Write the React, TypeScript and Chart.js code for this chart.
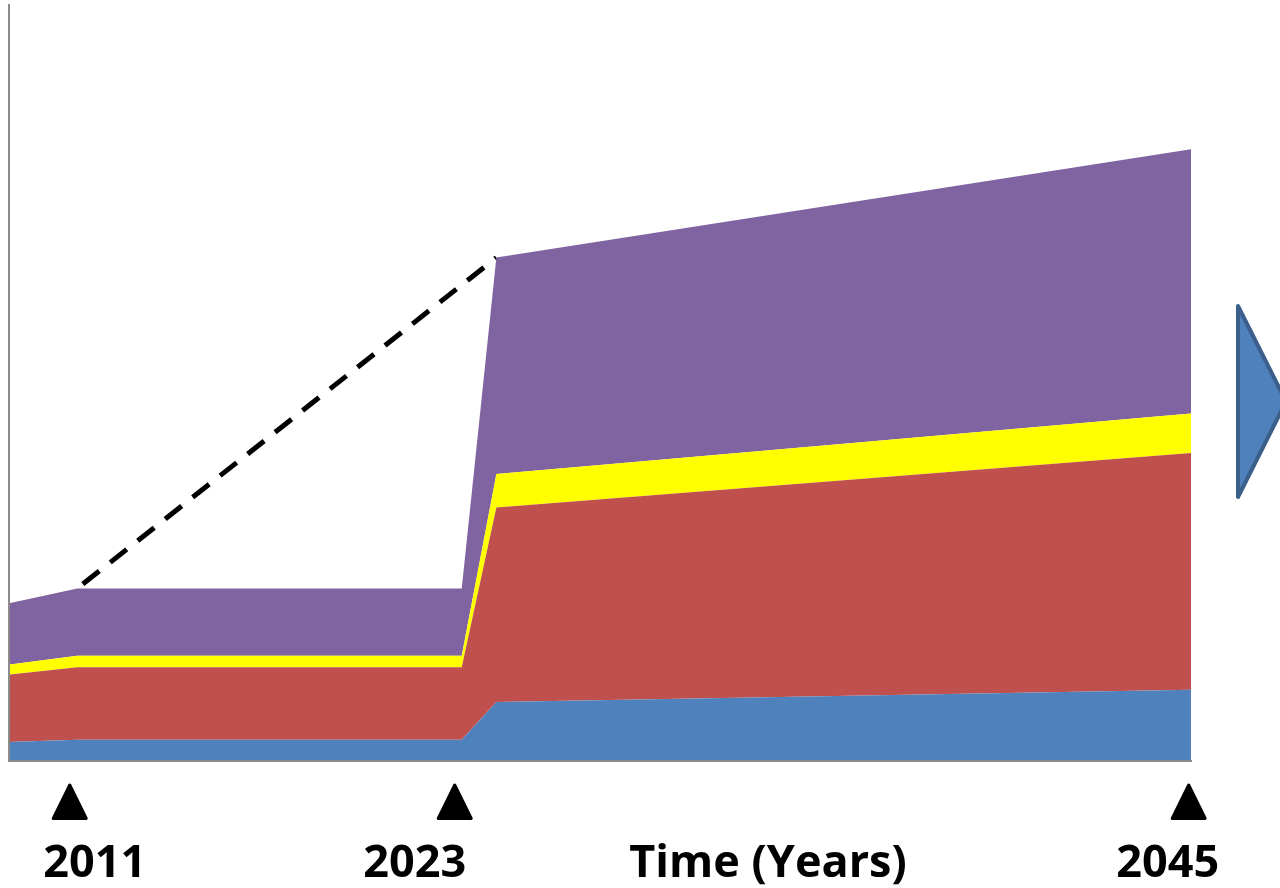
import React, { useEffect, useRef } from "react";
import { Chart, registerables } from "chart.js";

Chart.register(...registerables);

// ---- data ----
const years = [2009.25, 2011.35, 2023.0, 2024.05, 2045.1];
const blueValues = [2.5, 2.8, 2.8, 7.8, 9.4];
const redValues = [8.9, 9.6, 9.6, 25.7, 31.3];
const yellowValues = [1.3, 1.5, 1.5, 4.4, 5.2];
const purpleValues = [8.1, 8.9, 8.9, 28.6, 34.9];
const dashYears = [2011.35, 2024.05];
const dashTotals = [22.8, 66.5];
const markerYears = [2011, 2023, 2045];
const markerLabels = ["2011", "2023", "2045"];
const axisTitle = "Time (Years)";

const pts = (xs: number[], ys: number[]) => xs.map((x, i) => ({ x, y: ys[i] }));

const decorPlugin = {
  id: "decor",
  afterDatasetsDraw(chart: any) {
    const { ctx, chartArea, scales } = chart;
    const xs = scales.x;
    ctx.save();
    // axis lines
    ctx.strokeStyle = "#8c8c8c";
    ctx.lineWidth = 2;
    ctx.beginPath();
    ctx.moveTo(chartArea.left + 1, chartArea.top);
    ctx.lineTo(chartArea.left + 1, chartArea.bottom);
    ctx.lineTo(chartArea.right + 1, chartArea.bottom);
    ctx.stroke();

    // markers (small visual nudges to match the drawing)
    const markerNudge = [4, -7, 1];
    const labelOffsets = [29, -47, -20];
    ctx.fillStyle = "#000";
    ctx.strokeStyle = "#000";
    ctx.lineJoin = "round";
    ctx.lineWidth = 3;
    markerYears.forEach((yr, i) => {
      const px = xs.getPixelForValue(yr);
      const tx = px + markerNudge[i];
      ctx.beginPath();
      ctx.moveTo(tx, 785);
      ctx.lineTo(tx + 16.5, 818.5);
      ctx.lineTo(tx - 16.5, 818.5);
      ctx.closePath();
      ctx.fill();
      ctx.stroke();
      ctx.font = "bold 45px 'Open Sans'";
      ctx.textAlign = "center";
      ctx.textBaseline = "alphabetic";
      ctx.fillText(markerLabels[i], px + labelOffsets[i], 877);
    });
    ctx.font = "bold 45px 'Open Sans'";
    ctx.textAlign = "center";
    ctx.fillText(axisTitle, 768, 877);

    // right arrow
    ctx.beginPath();
    ctx.moveTo(1238, 306);
    ctx.lineTo(1286, 401.5);
    ctx.lineTo(1238, 497);
    ctx.closePath();
    ctx.fillStyle = "#4F81BD";
    ctx.fill();
    ctx.strokeStyle = "#3A5F8B";
    ctx.lineWidth = 4;
    ctx.lineJoin = "round";
    ctx.stroke();
    ctx.restore();
  },
};

export default function App() {
  const ref = useRef<HTMLCanvasElement>(null);
  useEffect(() => {
    if (!ref.current) return;
    const area = (data: number[], color: string, fill: any) => ({
      data: pts(years, data),
      backgroundColor: color,
      borderColor: color,
      borderWidth: 0,
      pointRadius: 0,
      fill,
      stack: "areas",
      tension: 0,
    });
    const chart = new Chart(ref.current, {
      type: "line",
      data: {
        datasets: [
          area(blueValues, "#4F81BD", "origin"),
          area(redValues, "#C0504D", "-1"),
          area(yellowValues, "#FFFF00", "-1"),
          area(purpleValues, "#8064A2", "-1"),
          {
            data: pts(dashYears, dashTotals),
            borderColor: "#000",
            borderWidth: 5,
            borderDash: [21, 14],
            borderDashOffset: -7,
            borderCapStyle: "butt",
            pointRadius: 0,
            fill: false,
            stack: "dash",
            tension: 0,
          } as any,
        ],
      },
      options: {
        animation: false,
        responsive: false,
        devicePixelRatio: 1,
        layout: { padding: { left: 8, right: 89, top: 4, bottom: 127 } },
        plugins: { legend: { display: false }, tooltip: { enabled: false } },
        scales: {
          x: { type: "linear", min: years[0], max: years[years.length - 1], display: false },
          y: { stacked: true, min: 0, max: 100, display: false },
        },
      },
      plugins: [decorPlugin],
    });
    return () => chart.destroy();
  }, []);
  return (
    <div style={{ position: "absolute", left: 0, top: 0, width: 1280, height: 888, background: "#fff" }}>
      <canvas ref={ref} width={1280} height={888} style={{ display: "block" }} />
    </div>
  );
}
